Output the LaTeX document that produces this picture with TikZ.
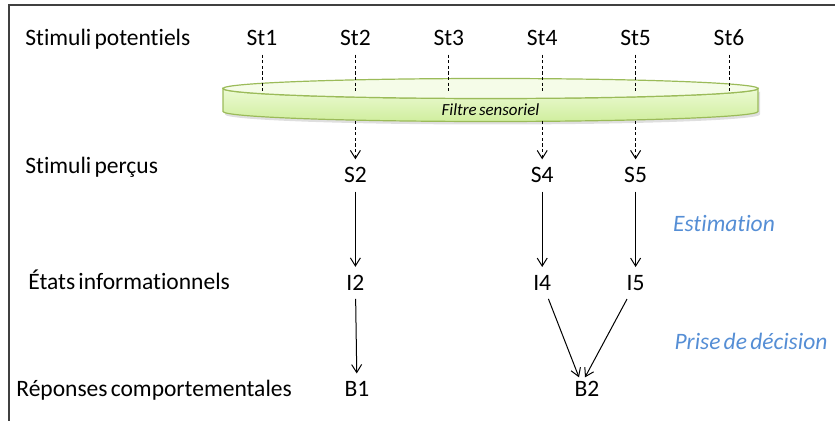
\documentclass[tikz,border=0pt]{standalone}
\usepackage{fontspec}
\setmainfont{Carlito}[WordSpace=0.6,Ligatures=NoCommon]
\usetikzlibrary{arrows.meta,shadows}
\definecolor{filtline}{RGB}{155,187,89}
\definecolor{filttop}{RGB}{245,252,232}
\definecolor{filthigh}{RGB}{236,250,212}
\definecolor{filtlow}{RGB}{208,238,158}
\definecolor{phase}{RGB}{85,142,213}
\begin{document}
\begin{tikzpicture}[x=0.5bp,y=-0.5bp,
  lbl/.style={font=\fontsize{11.8}{14}\selectfont,inner sep=4bp,anchor=base},
  rowlbl/.style={lbl,anchor=base west,inner sep=0pt},
  phaselbl/.style={lbl,font=\fontsize{11.8}{14}\selectfont\itshape,text=phase},
  dsh/.style={line width=0.5bp,dash pattern=on 1.6bp off 1.2bp},
  arr/.style={line width=0.5bp,-{Straight Barb[length=4bp,width=5bp]}}]
\useasboundingbox (0,0) rectangle (835,421);
\draw [line width=0.8bp,black!75] (835,5) -- (9,5) -- (9,421);
\node [rowlbl] (lpot) at (25,46) {Stimuli potentiels};
\node [rowlbl] (lper) at (25,174) {Stimuli perçus};
\node [rowlbl] (letat) at (28,290) {États informationnels};
\node [rowlbl] (lrep) at (16,397) {Réponses comportementales};
\node [lbl] (st1) at (262,46) {St1};
\node [lbl] (st2) at (355.4,46) {St2};
\node [lbl] (st3) at (448.8,46) {St3};
\node [lbl] (st4) at (542.2,46) {St4};
\node [lbl] (st5) at (635.6,46) {St5};
\node [lbl] (st6) at (729,46) {St6};
\coordinate (ftop) at (490.5,92);
\coordinate (fbot) at (490.5,121);
\draw [filtline,line width=0.6bp,top color=filthigh,bottom color=filtlow,drop shadow={shadow xshift=1bp,shadow yshift=-1.5bp,opacity=0.25}] (223,88.5) -- (223,111.5) arc (180:0:267.5 and 10) -- (758,88.5) arc (0:180:267.5 and 10) -- cycle;
\draw [filtline,line width=0.6bp,fill=filttop] (490.5,88.5) ellipse (267.5 and 10);
\node [font=\fontsize{8.5}{10}\selectfont\itshape] (ftxt) at (490.5,109.5) {Filtre sensoriel};
\draw [dsh] (st1) -- (st1 |- ftop);
\draw [dsh] (st2) -- (st2 |- ftop);
\draw [dsh] (st3) -- (st3 |- ftop);
\draw [dsh] (st4) -- (st4 |- ftop);
\draw [dsh] (st5) -- (st5 |- ftop);
\draw [dsh] (st6) -- (st6 |- ftop);
\node [lbl] (s2) at (355.4,183) {S2};
\node [lbl] (s4) at (542.2,183) {S4};
\node [lbl] (s5) at (635.6,183) {S5};
\draw [dsh,arr] (s2 |- fbot) -- (s2);
\draw [dsh,arr] (s4 |- fbot) -- (s4);
\draw [dsh,arr] (s5 |- fbot) -- (s5);
\node [lbl] (i2) at (355.4,290.5) {I2};
\node [lbl] (i4) at (542.2,290.5) {I4};
\node [lbl] (i5) at (635.6,290.5) {I5};
\draw [arr] (s2) -- (i2);
\draw [arr] (s4) -- (i4);
\draw [arr] (s5) -- (i5);
\node [lbl] (b1) at (357,397) {B1};
\node [lbl] (b2) at (587,397) {B2};
\draw [arr] (i2) -- (b1);
\draw [arr] (i4) -- ([xshift=-4bp,yshift=-2bp]b2.north);
\draw [arr] (i5) -- ([xshift=-1bp,yshift=-2bp]b2.north);
\node [phaselbl] (pest) at (724,232) {Estimation};
\node [phaselbl] (pdec) at (751,350) {Prise de décision};
\end{tikzpicture}
\end{document}
